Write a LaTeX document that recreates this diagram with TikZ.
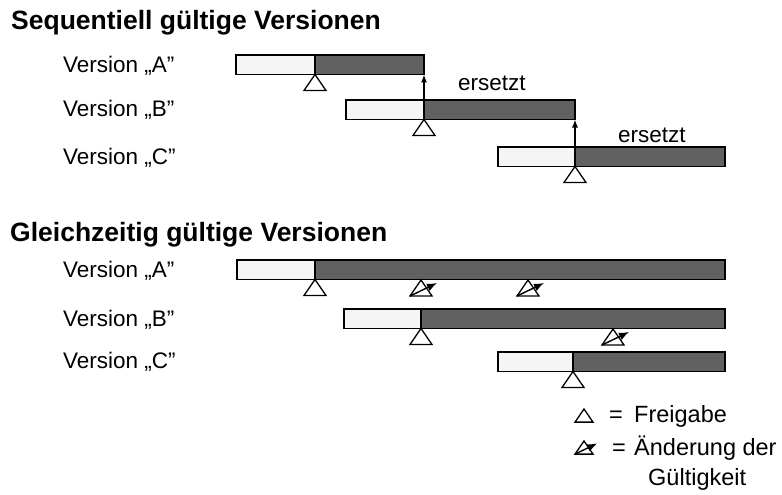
\documentclass[tikz,border=0pt]{standalone}
\usepackage{fontspec}
\setmainfont{Liberation Sans}
\usetikzlibrary{arrows.meta}
\begin{document}
\begin{tikzpicture}[x=1pt,y=-1pt,
  bar/.style={draw=black, line width=1.3pt, inner sep=0pt, outer sep=0pt, anchor=north west, minimum height=19.5pt},
  wbar/.style={bar, fill=black!4},
  dbar/.style={bar, fill=black!62},
  title/.style={anchor=base west, inner sep=0pt, font=\fontsize{26.5}{30}\selectfont\bfseries},
  lbl/.style={anchor=base west, inner sep=0pt, font=\fontsize{22.5}{26}\selectfont},
  leg/.style={anchor=base west, inner sep=0pt, font=\fontsize{23.5}{27}\selectfont},
  repl/.style={line width=1.3pt, -{Latex[length=8pt,width=6pt]}},
  freigabe/.pic={\draw[line width=1.3pt, fill=white] (0,0) -- (-11,16) -- (11,16) -- cycle;},
  aenderung/.pic={\draw[line width=1.3pt, fill=white] (0,0) -- (-11,16) -- (11,16) -- cycle;
     \draw[line width=1.4pt, -{Latex[length=10pt,width=8pt]}] (-11,16) -- (16,3);}
]
\useasboundingbox (0,0) rectangle (782,495);

% ---------- Sequentiell ----------
\node[title] (t1) at (11,30) {Sequentiell gültige Versionen};

\node[lbl] (la1) at (63,73) {Version „A”};
\node[lbl] (lb1) at (63,117) {Version „B”};
\node[lbl] (lc1) at (63,164) {Version „C”};

\node[wbar, minimum width=79pt]  (a1w) at (236,55) {};
\node[dbar, minimum width=109pt] (a1d) at (315,55) {};
\node[wbar, minimum width=78pt]  (b1w) at (346,100) {};
\node[dbar, minimum width=151pt] (b1d) at (424,100) {};
\node[wbar, minimum width=77pt]  (c1w) at (498,147) {};
\node[dbar, minimum width=150pt] (c1d) at (575,147) {};

\pic at (a1d.south west) {freigabe};
\pic at (b1d.south west) {freigabe};
\pic at (c1d.south west) {freigabe};

\draw[repl] (b1w.north east) -- (a1d.south east);
\draw[repl] (c1w.north east) -- (b1d.south east);

\node[lbl] (e1) at (458,91) {ersetzt};
\node[lbl] (e2) at (618,142) {ersetzt};

% ---------- Gleichzeitig ----------
\node[title] (t2) at (10,241) {Gleichzeitig gültige Versionen};

\node[lbl] (la2) at (63,277) {Version „A”};
\node[lbl] (lb2) at (63,326) {Version „B”};
\node[lbl] (lc2) at (63,368) {Version „C”};

\node[wbar, minimum width=78pt]  (a2w) at (237,260) {};
\node[dbar, minimum width=410pt] (a2d) at (315,260) {};
\node[wbar, minimum width=77pt]  (b2w) at (344,309) {};
\node[dbar, minimum width=304pt] (b2d) at (421,309) {};
\node[wbar, minimum width=75pt]  (c2w) at (498,352) {};
\node[dbar, minimum width=152pt] (c2d) at (573,352) {};

\pic at (a2d.south west) {freigabe};
\pic at (b2d.south west) {freigabe};
\pic at (c2d.south west) {freigabe};

\pic at (421,280) {aenderung};
\pic at (528,280) {aenderung};
\pic at (613,329) {aenderung};

% ---------- Legende ----------
\pic[scale=0.82] at (584,409) {freigabe};
\node[leg] (eq1) at (609,422) {=};
\node[leg] (lg1) at (634,422) {Freigabe};
\pic[scale=0.82] at (584,441) {aenderung};
\node[leg] (eq2) at (612,455) {=};
\node[leg] (lg2) at (634,455) {Änderung der};
\node[leg] (lg3) at (648,485) {Gültigkeit};
\end{tikzpicture}
\end{document}
